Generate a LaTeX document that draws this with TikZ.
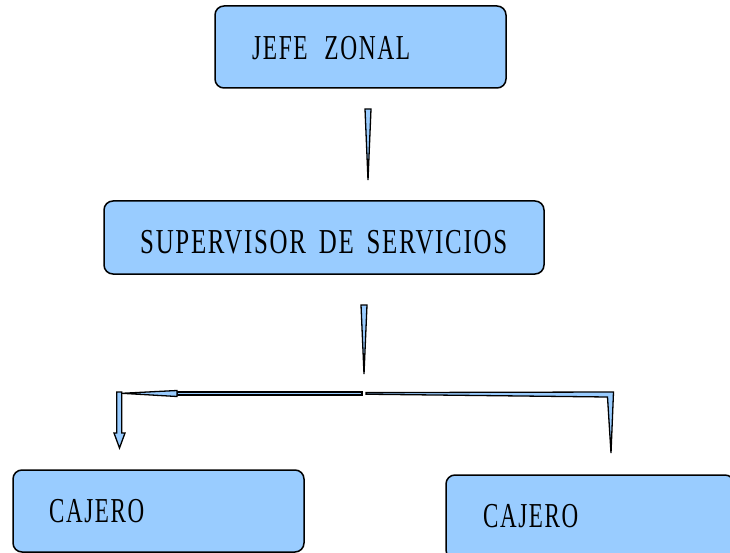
\documentclass[tikz,border=0pt]{standalone}
\usepackage{fontspec}
\usepackage{graphicx}
\setmainfont{Liberation Serif}[FakeStretch=0.72, LetterSpace=5]
\usetikzlibrary{calc}
\definecolor{boxblue}{RGB}{153,204,255}
\newcommand{\fitto}[2]{\resizebox{#1}{\height}{#2}}
\tikzset{
  box/.style={draw=black, line width=1.5pt, fill=boxblue, rounded corners=9pt,
    rectangle, inner sep=0pt, outer sep=0pt},
  lbl/.style={anchor=base west, inner sep=0pt, font=\fontsize{35pt}{40pt}\selectfont, text=black},
  wedge/.style={draw=black, line width=1.3pt, fill=boxblue, line join=miter},
}
\begin{document}
\begin{tikzpicture}[x=1pt, y=-1pt]
  \useasboundingbox (0,0) rectangle (730,553);

  % boxes
  \node[box, minimum width=291pt, minimum height=82pt] (jefe) at (360.5,47) {};
  \node[box, minimum width=440pt, minimum height=73pt] (sup) at (324,237.5) {};
  \node[box, minimum width=291pt, minimum height=82pt] (caja) at (158.5,511) {};
  \node[box, minimum width=288pt, minimum height=84pt] (cajb) at (590,517) {};

  % labels
  \node[lbl] (tjefe) at (252,60) {\fitto{158pt}{JEFE\hspace{18pt}ZONAL}};
  \node[lbl] (tsup) at (140,253) {\fitto{367pt}{SUPERVISOR\hspace{13pt}DE\hspace{13pt}SERVICIOS}};
  \node[lbl] (tcaja) at (49,522) {\fitto{95pt}{CAJERO}};
  \node[lbl] (tcajb) at (483,527) {\fitto{95pt}{CAJERO}};

  % connector points
  \coordinate (a1) at ($(jefe.south)+(4.5,21)$);
  \coordinate (a2) at ($(jefe.south)+(10.5,21)$);
  \coordinate (a3) at ($(jefe.south)+(7.5,92)$);

  \coordinate (b1) at ($(sup.south)+(37,31)$);
  \coordinate (b2) at ($(sup.south)+(43,31)$);
  \coordinate (b3) at ($(sup.south)+(40,100)$);

  \coordinate (h1) at (362,392);
  \coordinate (h2) at (362,395);
  \coordinate (h3) at (177,395);
  \coordinate (h4) at (177,392);
  \coordinate (h5) at (177,390.5);
  \coordinate (h6) at (177,396.5);
  \coordinate (h7) at (122,393.3);

  \coordinate (r1) at (366,392.6);
  \coordinate (r2) at (613.5,392);
  \coordinate (r3) at ($(cajb.north)+(21,-22)$);
  \coordinate (r4) at (607.5,397);
  \coordinate (r5) at (366,394.2);

  % wedge connectors
  \draw[wedge] (a1) -- (a2) -- (a3) -- cycle;
  \draw[wedge] (b1) -- (b2) -- (b3) -- cycle;

  % left branch: bar, taper and down arrow
  \draw[wedge] (h1) -- (h2) -- (h3) -- (h4) -- cycle;
  \draw[wedge] (h5) -- (h6) -- (h7) -- cycle;
  \draw[wedge] (116.7,392) -- (121.8,392) -- (121.8,433) -- (125,433)
     -- ($(caja.north)+(-39,-22)$) -- (114,433) -- (116.7,433) -- cycle;

  % right branch
  \draw[wedge] (r1) -- (r2) -- (r3) -- (r4) -- (r5) -- cycle;
\end{tikzpicture}
\end{document}
